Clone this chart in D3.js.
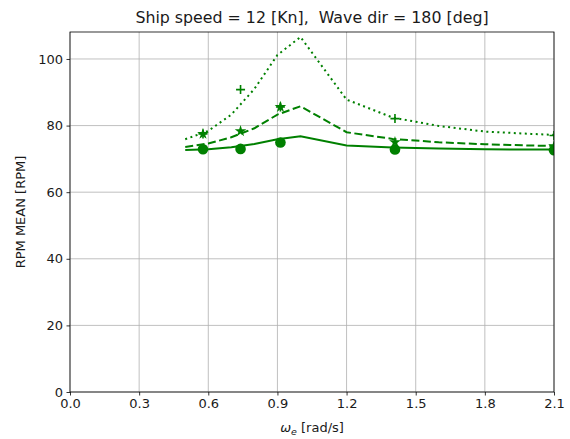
<!DOCTYPE html>
<html><head><meta charset="utf-8">
<script src="https://cdn.jsdelivr.net/npm/d3@7"></script>
<style>body{margin:0;background:#fff}svg{display:block}text{font-family:"DejaVu Sans",sans-serif;fill:#1a1a1a}</style>
</head><body><svg id="c" width="570" height="439"></svg>
<script>
// model curves
const modelW = [0.5, 0.6, 0.7, 0.8, 0.9, 1.0, 1.2, 1.4, 1.6, 1.8, 2.0, 2.1];
const solidRpm  = [72.7, 72.9, 73.5, 74.5, 75.9, 76.8, 74.0, 73.4, 73.1, 72.9, 72.8, 72.8];
const dashedRpm = [73.6, 74.6, 76.5, 79.2, 83.3, 85.8, 78.0, 76.0, 75.0, 74.4, 74.0, 73.9];
const dottedRpm = [75.9, 78.4, 83.3, 91.0, 101.2, 106.6, 87.8, 82.4, 79.9, 78.2, 77.5, 77.2];
// measured points
const expW = [0.577, 0.74, 0.913, 1.41, 2.1];
const circleRpm = [72.9, 73.0, 74.9, 72.8, 72.6];
const starRpm   = [77.5, 78.3, 85.6, 75.0, 73.8];
const plusRpm   = [77.5, 90.8, 85.6, 82.1, 77.0];
const xTicks = [0.0, 0.3, 0.6, 0.9, 1.2, 1.5, 1.8, 2.1];
const yTicks = [0, 20, 40, 60, 80, 100];

const svg = d3.select("#c");
const L = 70, R = 554, T = 32, B = 392;
const x = d3.scaleLinear().domain([0, 2.1]).range([L, R]);
const y = d3.scaleLinear().domain([0, 108.1]).range([B, T]);
const col = "#008000";

svg.append("defs").append("clipPath").attr("id","clip").append("rect")
  .attr("x",L).attr("y",T).attr("width",R-L).attr("height",B-T);

// grid
const g = svg.append("g");
g.selectAll(".vg").data(xTicks).join("line")
  .attr("x1",d=>x(d)).attr("x2",d=>x(d)).attr("y1",T).attr("y2",B)
  .attr("stroke","#b0b0b0").attr("stroke-width",0.8);
g.selectAll(".hg").data(yTicks).join("line")
  .attr("y1",d=>y(d)).attr("y2",d=>y(d)).attr("x1",L).attr("x2",R)
  .attr("stroke","#b0b0b0").attr("stroke-width",0.8);

const plot = svg.append("g").attr("clip-path","url(#clip)");
const line = d3.line().x(d=>x(d[0])).y(d=>y(d[1]));
function drawLine(vals, dash){
  plot.append("path").datum(modelW.map((w,i)=>[w,vals[i]]))
    .attr("d",line).attr("fill","none").attr("stroke",col)
    .attr("stroke-width",2).attr("stroke-dasharray",dash);
}
drawLine(solidRpm, null);
drawLine(dashedRpm, "8,3.5");
drawLine(dottedRpm, "2,3.5");

// markers
plot.selectAll(".circ").data(expW.map((w,i)=>[w,circleRpm[i]])).join("circle")
  .attr("cx",d=>x(d[0])).attr("cy",d=>y(d[1])).attr("r",5.3).attr("fill",col);
const star = d3.symbol().type(d3.symbolStar).size(42);
plot.selectAll(".star").data(expW.map((w,i)=>[w,starRpm[i]])).join("path")
  .attr("transform",d=>`translate(${x(d[0])},${y(d[1])})`).attr("d",star).attr("fill",col);
plot.selectAll(".plus").data(expW.map((w,i)=>[w,plusRpm[i]])).join("path")
  .attr("transform",d=>`translate(${x(d[0])},${y(d[1])})`)
  .attr("d","M-4.5,0H4.5M0,-4.5V4.5").attr("stroke",col).attr("stroke-width",1.6).attr("fill","none");

// axes
const xa = svg.append("g").attr("transform",`translate(0,${B})`)
  .call(d3.axisBottom(x).tickValues(xTicks).tickFormat(d3.format(".1f")).tickSizeOuter(0).tickSize(3.5).tickPadding(3.5));
const ya = svg.append("g").attr("transform",`translate(${L},0)`)
  .call(d3.axisLeft(y).tickValues(yTicks).tickSizeOuter(0).tickSize(3.5).tickPadding(3.5));
[xa,ya].forEach(a=>{
  a.select(".domain").remove();
  a.selectAll("line").attr("stroke","#000").attr("stroke-width",0.8);
  a.selectAll("text").attr("font-size",13).attr("font-family","DejaVu Sans").attr("fill","#1a1a1a");
});
svg.append("rect").attr("x",L).attr("y",T).attr("width",R-L).attr("height",B-T)
  .attr("fill","none").attr("stroke","#000").attr("stroke-width",0.8);

// labels
svg.append("text").attr("x",(L+R)/2).attr("y",23).attr("text-anchor","middle")
  .attr("font-size",15.8).style("white-space","pre").text("Ship speed = 12 [Kn],  Wave dir = 180 [deg]");
svg.append("text").attr("transform",`translate(25,${(T+B)/2}) rotate(-90)`).attr("text-anchor","middle")
  .attr("font-size",13).text("RPM MEAN [RPM]");
const xl = svg.append("text").attr("x",(L+R)/2).attr("y",432).attr("text-anchor","middle").attr("font-size",13);
xl.append("tspan").attr("font-style","italic").text("ω");
xl.append("tspan").attr("font-style","italic").attr("font-size",9.5).attr("dy",3).text("e");
xl.append("tspan").attr("dy",-3).text(" [rad/s]");
</script></body></html>
